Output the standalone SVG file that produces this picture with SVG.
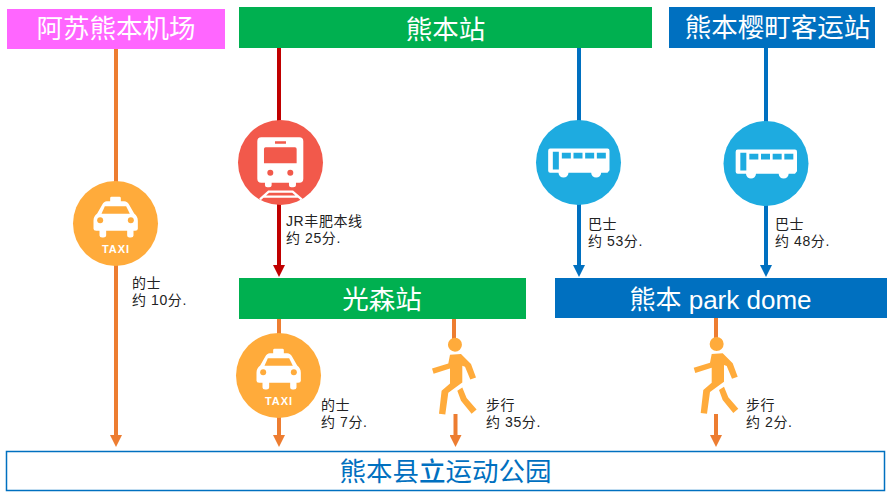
<svg xmlns="http://www.w3.org/2000/svg" width="895" height="504" viewBox="0 0 895 504">
<style>
text{font-family:"Liberation Sans","Noto Sans CJK SC",sans-serif}
.t{font-size:26.500px;fill:#fff;text-anchor:middle}
.s{font-size:14px;fill:#222;letter-spacing:.6px}
.x{font-size:11px;font-weight:700;fill:#fff;text-anchor:middle;letter-spacing:1px}
.c{fill:none;stroke-width:4}
.o{stroke:#ED7D31}.r{stroke:#C00000}.b{stroke:#0070C0}
</style>
<defs>
<marker id="mo" markerUnits="userSpaceOnUse" markerWidth="12" markerHeight="12" refX="1" refY="6" orient="auto"><path d="M0 0L12 6L0 12Z" fill="#ED7D31"/></marker>
<marker id="mr" markerUnits="userSpaceOnUse" markerWidth="12" markerHeight="12" refX="1" refY="6" orient="auto"><path d="M0 0L12 6L0 12Z" fill="#C00000"/></marker>
<marker id="mb" markerUnits="userSpaceOnUse" markerWidth="12" markerHeight="12" refX="1" refY="6" orient="auto"><path d="M0 0L12 6L0 12Z" fill="#0070C0"/></marker>
<g id="taxi">
<circle r="42.5" fill="#FFAB3B"/>
<g transform="scale(.3333) translate(-346 -670)">
<path fill="#fff" d="M330 603V594Q330 590 334 590H358Q362 590 362 594V603H372Q382 603 387 614L402 640Q413 648 413 662V686Q413 692 405 692H400V706Q400 712 392 712H388Q381 712 381 706V692H318V706Q318 712 310 712H306Q298 712 298 706V692H288Q280 692 280 686V662Q280 648 291 640L306 614Q311 603 320 603Z"/>
<path fill="#FFAB3B" d="M314 618H378L389 641H304Z"/>
<circle cx="300" cy="660" r="9" fill="#FFAB3B"/><circle cx="392" cy="660" r="9" fill="#FFAB3B"/>
</g>
</g>
<g id="bus">
<circle r="42.5" fill="#1EABE0"/>
<g transform="scale(.3333) translate(-175 -187)">
<path fill="#fff" d="M90 145H262Q268 145 268 152V210L262 218H243A15 14 0 0 1 213 218H145A15 14 0 0 1 115 218H90Q84 218 84 212V152Q84 145 90 145Z"/>
<path fill="#1EABE0" d="M98 155H116V208H98ZM125 158H152V175H125ZM160 158H187V175H160ZM195 158H222V175H195ZM230 158H257V175H230Z"/>
</g>
</g>
<path id="walk" fill="#FFAB3B" d="M711.7 354L722.7 353.3L732.7 363.3L737.7 376.7L732 378.7L726.7 366L724 365V381.7L710 392L707 413.7L700.7 413L703.3 390L711.7 382.7V367.7L695.3 373L693.7 367.7L710 362.7ZM719 390L724 386.7L728.3 397.3L738.3 408.7L733.3 413L722.7 400ZM716.7 337A7 7 0 1 1 716.6 351A7 7 0 1 1 716.7 337Z"/>
</defs>
<g id="connectors">
<line class="c o" x1="116" y1="49" x2="116" y2="436" marker-end="url(#mo)"/>
<line class="c r" x1="279" y1="48" x2="279" y2="266" marker-end="url(#mr)"/>
<line class="c b" x1="579" y1="48" x2="579" y2="266" marker-end="url(#mb)"/>
<line class="c b" x1="766" y1="48" x2="766" y2="266" marker-end="url(#mb)"/>
<line class="c o" x1="279" y1="319" x2="279" y2="436" marker-end="url(#mo)"/>
<line class="c o" x1="454" y1="319" x2="454" y2="340"/>
<line class="c o" x1="455.5" y1="414" x2="455.5" y2="436" marker-end="url(#mo)"/>
<line class="c o" x1="716" y1="318" x2="716" y2="340"/>
<line class="c o" x1="716" y1="414" x2="716" y2="436" marker-end="url(#mo)"/>
</g>
<g id="aso-airport"><rect x="7" y="9" width="218" height="40" fill="#FF66FF"/><text class="t" x="116" y="38">阿苏熊本机场</text></g>
<g id="kumamoto-station"><rect x="239" y="7" width="413" height="41" fill="#00B050"/><text class="t" x="445.500" y="39">熊本站</text></g>
<g id="sakuramachi"><rect x="669" y="7" width="206" height="41" fill="#0070C0"/><text class="t" x="777.500" y="37">熊本樱町客运站</text></g>
<g id="hikarinomori"><rect x="239" y="278" width="287" height="41" fill="#00B050"/><text class="t" x="382" y="309">光森站</text></g>
<g id="park-dome"><rect x="555" y="278" width="332" height="40" fill="#0070C0"/><text class="t" x="720.500" y="309" style="font-size:26px">熊本 park dome</text></g>
<g id="sports-park"><rect x="6.500" y="451.500" width="878" height="39" fill="#fff" stroke="#0070C0" stroke-width="1.500"/><text class="t" x="445.500" y="481" style="fill:#0070C0">熊本县<tspan font-weight="500">立</tspan>运动公园</text></g>
<g id="taxi-1"><use href="#taxi" x="115.500" y="223.500"/><text class="x" x="116" y="253">TAXI</text><text class="s" x="132" y="288">的士</text><text class="s" x="132" y="305">约 10分.</text></g>
<g id="train"><circle cx="280.500" cy="162.500" r="42.500" fill="#F2594B"/>
<g transform="scale(.3333)">
<path fill="#fff" d="M784 412H898Q910 412 910 424V536Q910 548 898 548H888V556Q888 562 880 562H874Q867 562 867 556V548H815V556Q815 562 808 562H802Q795 562 795 556V548H784Q772 548 772 536V424Q772 412 784 412Z"/>
<path fill="#F2594B" d="M797 442H885Q890 442 890 447V490H792V447Q792 442 797 442ZM825 424H858V431H825Z"/>
<circle cx="811" cy="518" r="9" fill="#F2594B"/><circle cx="871" cy="518" r="9" fill="#F2594B"/>
<path fill="none" stroke="#fff" stroke-width="7" d="M780 598L806 575H878L905 598M790 590H895"/>
</g>
<text class="s" x="286" y="226">JR丰肥本线</text><text class="s" x="286" y="243">约 25分.</text></g>
<g id="bus-1"><use href="#bus" x="578.500" y="162.500"/><text class="s" x="588" y="229">巴士</text><text class="s" x="588" y="246">约 53分.</text></g>
<g id="bus-2"><use href="#bus" x="766" y="163.500"/><text class="s" x="775" y="229">巴士</text><text class="s" x="775" y="246">约 48分.</text></g>
<g id="taxi-2"><use href="#taxi" x="278.500" y="375.500"/><text class="x" x="279" y="405">TAXI</text><text class="s" x="321" y="410">的士</text><text class="s" x="321" y="427">约 7分.</text></g>
<g id="walk-1"><use href="#walk" x="-261.700" y="0.700"/><text class="s" x="486" y="410">步行</text><text class="s" x="486" y="427">约 35分.</text></g>
<g id="walk-2"><use href="#walk"/><text class="s" x="746" y="410">步行</text><text class="s" x="746" y="427">约 2分.</text></g>
</svg>
